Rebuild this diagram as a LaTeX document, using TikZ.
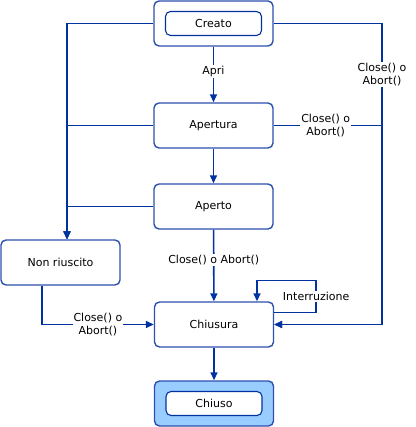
\documentclass[tikz,border=0pt]{standalone}
\usepackage{fontspec}
\setmainfont{DejaVu Sans}
\usetikzlibrary{arrows.meta}
\definecolor{blulinea}{RGB}{0,51,160}
\definecolor{bordo}{RGB}{45,80,175}
\definecolor{pieno}{RGB}{153,204,255}
\tikzset{
  stato/.style={draw=bordo, line width=1.4pt, rounded corners=5pt, minimum width=119pt, minimum height=45pt, fill=white},
  interno/.style={draw=blulinea, line width=1.1pt, rounded corners=5pt, minimum width=96pt, minimum height=24pt, fill=white},
  ramo/.style={color=blulinea, line width=1.6pt},
  freccia/.style={ramo, -{Triangle[length=8pt,width=7pt]}},
  etichetta/.style={fill=white, text=black, align=center, inner sep=1pt}
}
\begin{document}
\begin{tikzpicture}[x=1pt,y=-1pt,font=\fontsize{11}{13}\selectfont]
  \useasboundingbox (0,0) rectangle (415,427);
  \coordinate (sinistra) at (67,0);
  \coordinate (destra) at (382,0);

  \node[stato] (creato) at (213.5,23.5) {};
  \node[interno] (creatoin) at (creato) {Creato};
  \node[stato] (apertura) at (213.5,125.5) {Apertura};
  \node[stato] (aperto) at (213.5,206.5) {Aperto};
  \node[stato] (nonriuscito) at (60.5,262.5) {Non riuscito};
  \node[stato] (chiusura) at (214,324.5) {Chiusura};
  \node[stato, fill=pieno] (chiuso) at (214,403.5) {};
  \node[interno] (chiusoin) at (chiuso) {Chiuso};

  \draw[freccia] (creato) -- node[etichetta, pos=0.45] {Apri} (apertura);
  \draw[freccia] (apertura) -- (aperto);
  \draw[freccia] (aperto) -- node[etichetta, pos=0.42] {Close() o Abort()} (chiusura);
  \draw[freccia] (chiusura) -- (chiuso);

  \draw[freccia] (creato.west) -| (sinistra |- nonriuscito.north);
  \draw[freccia] (apertura.west) -- (sinistra |- apertura.west) -- (sinistra |- nonriuscito.north);
  \draw[freccia] (aperto.west) -- (sinistra |- aperto.west) -- (sinistra |- nonriuscito.north);

  \draw[freccia] (creato.east) -| node[etichetta, pos=0.585] {Close() o\\Abort()} (destra |- chiusura.east) -- (chiusura.east);
  \draw[freccia] (apertura.east) -- node[etichetta, pos=0.48] {Close() o\\Abort()} (destra |- apertura.east) -- (destra |- chiusura.east) -- (chiusura.east);

  \draw[freccia] ([xshift=-18.5pt]nonriuscito.south) |- node[etichetta, pos=0.75] {Close() o\\Abort()} (chiusura.west);
  \draw[freccia] ([yshift=12pt]chiusura.east) -| node[etichetta, pos=0.75] {Interruzione} ++(42,-32) -| ([xshift=43pt]chiusura.north);
\end{tikzpicture}
\end{document}
